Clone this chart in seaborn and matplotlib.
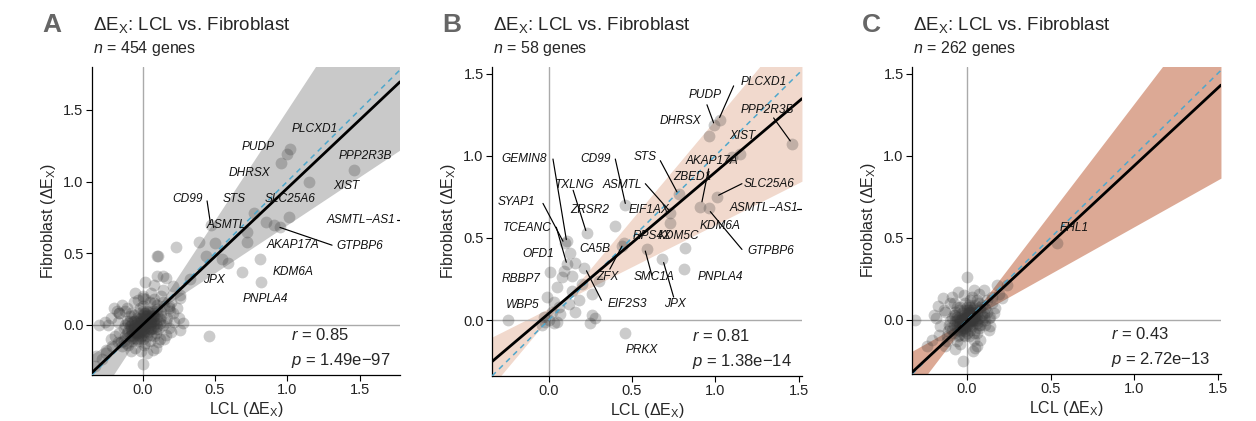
import numpy as np
import matplotlib
matplotlib.use("Agg")
import matplotlib.pyplot as plt
import seaborn as sns

# ------------------------------
# data
# ------------------------------
panels = ["A", "B", "C"]
n_genes = [454, 58, 262]
r_vals = ["0.85", "0.81", "0.43"]
p_vals = ["1.49e\u221297", "1.38e\u221214", "2.72e\u221213"]

# fitted line and slope interval (band pivots on the fit)
fit_slope = [0.953, 0.86, 0.946]
fit_icpt = [0.0, 0.04, -0.008]
band_lo = [0.67, 0.51, 0.57]
band_hi = [1.54, 1.21, 1.33]
pivot_x = [0.08, 0.086, 0.013]

xlims = [(-0.35, 1.78), (-0.34, 1.52), (-0.33, 1.52)]
ylims = [(-0.35, 1.80), (-0.34, 1.54), (-0.33, 1.54)]
band_colors = ["#c9c9c9", "#f1d9cd", "#dca995"]

# panel A points
a_pts = [
    (1.016, 1.23), (1.00, 1.19), (0.96, 1.13), (1.46, 1.08), (1.15, 1.00),
    (1.01, 0.75), (0.85, 0.72), (0.91, 0.70), (0.95, 0.68), (0.77, 0.78),
    (0.72, 0.65), (0.72, 0.58), (0.50, 0.57), (0.47, 0.70), (0.39, 0.58),
    (0.23, 0.54), (0.11, 0.48), (0.81, 0.46), (0.10, 0.48), (0.44, 0.48),
    (0.55, 0.46), (0.59, 0.43), (0.69, 0.37), (0.82, 0.30), (0.14, 0.34),
    (0.10, 0.34), (0.165, 0.33), (0.02, 0.30), (0.08, 0.28), (0.21, 0.27),
    (0.26, 0.21), (0.14, 0.245), (0.0, 0.19), (-0.05, 0.22), (0.08, 0.15),
    (0.18, 0.13), (0.28, 0.01), (0.26, -0.035), (0.46, -0.08), (0.07, -0.175),
    (-0.30, 0.0), (-0.24, 0.0), (-0.16, 0.08), (-0.17, -0.12), (-0.115, -0.13),
    (0.0, -0.27), (-0.25, -0.175), (-0.33, -0.29), (-0.32, -0.22), (0.33, 0.32),
    (0.00, 0.00), (0.02, 0.01), (-0.02, -0.01), (0.01, -0.03), (-0.01, 0.03),
    (0.04, 0.03), (-0.04, -0.03), (0.03, -0.01), (-0.03, 0.01), (0.05, 0.00),
    (-0.05, 0.00), (0.00, 0.05), (0.00, -0.05), (0.06, 0.04), (-0.06, -0.05),
    (0.02, 0.06), (-0.02, -0.06), (0.07, -0.02), (-0.07, 0.02), (0.04, -0.05),
    (-0.04, 0.05), (0.08, 0.06), (-0.08, -0.07), (0.01, 0.08), (-0.01, -0.08),
    (0.09, 0.01), (-0.09, -0.01), (0.05, 0.08), (-0.05, -0.09), (0.10, 0.07),
    (-0.10, -0.04), (0.03, 0.10), (-0.03, -0.11), (0.11, -0.03), (-0.11, 0.03),
    (0.07, 0.10), (-0.07, -0.11), (0.12, 0.04), (-0.12, -0.08), (0.00, 0.10),
    (0.00, -0.10), (0.06, -0.07), (-0.06, 0.07), (0.13, 0.09), (-0.13, -0.02),
    (0.09, -0.06), (-0.09, 0.06), (0.02, -0.13), (-0.02, 0.12), (0.14, 0.00),
    (0.01, 0.02), (-0.01, 0.00), (0.03, 0.04), (-0.03, -0.04), (0.02, -0.02),
    (-0.02, 0.02), (0.05, 0.02), (-0.05, -0.02), (0.04, 0.06), (-0.04, -0.06),
    (0.06, 0.01), (-0.06, -0.01), (0.01, 0.04), (-0.01, -0.04), (0.08, 0.03),
    (-0.08, -0.03), (0.03, 0.07), (-0.03, -0.07), (0.07, 0.06), (-0.07, -0.06),
    (0.01, 0.00), (-0.01, 0.01), (0.00, -0.01), (0.02, 0.03), (-0.02, -0.02),
    (0.03, 0.01), (-0.03, -0.01), (0.01, -0.05), (-0.01, 0.05), (0.04, -0.02),
    (-0.04, 0.02), (0.05, 0.05), (-0.05, -0.05), (0.06, -0.03), (-0.06, 0.03),
    (0.02, 0.08), (-0.02, -0.09), (0.07, 0.03), (-0.07, -0.04), (0.03, -0.08),
    (-0.03, 0.08), (0.09, 0.05), (-0.09, -0.08), (0.04, 0.09), (-0.04, -0.10),
    (0.10, -0.01), (-0.10, 0.01), (0.06, 0.07), (-0.06, -0.08), (0.11, 0.10),
    (-0.11, -0.06), (0.08, -0.08), (-0.08, 0.08), (0.12, 0.01), (-0.12, 0.00),
    (0.00, 0.13), (0.01, -0.14), (0.13, 0.06), (-0.13, -0.11), (0.05, -0.11),
    (0.00, 0.02), (0.02, -0.04), (-0.02, 0.04), (0.04, 0.04), (-0.04, -0.04),
    (0.06, 0.02), (-0.06, -0.02), (0.03, 0.06), (-0.03, -0.06), (0.08, 0.00),
    (-0.08, 0.00), (0.00, 0.07), (0.00, -0.07), (0.05, -0.03), (-0.05, 0.03),
    (0.07, 0.08), (-0.07, -0.09), (0.09, -0.03), (-0.09, 0.03), (0.10, 0.11),
    (0.15, 0.13), (-0.15, -0.12), (0.17, 0.05), (-0.17, 0.02), (0.05, 0.16),
    (-0.05, -0.16), (0.19, 0.10), (-0.19, -0.08), (0.12, -0.10), (-0.12, 0.10),
    (0.20, 0.16), (-0.21, -0.15), (0.16, -0.07), (-0.16, 0.08), (0.08, 0.18),
    (-0.08, -0.18), (0.22, 0.02), (-0.22, 0.05), (0.00, 0.20), (0.03, -0.20),
    (0.24, 0.12), (-0.25, -0.20), (0.10, 0.14), (-0.10, -0.14), (0.18, -0.02),
    (-0.14, 0.14), (0.26, 0.19), (-0.28, -0.24), (0.13, 0.20), (-0.03, 0.17),
    (0.14, 0.16), (-0.14, -0.15), (0.16, 0.02), (-0.16, -0.06), (0.11, -0.12),
    (-0.11, 0.12), (0.18, 0.12), (-0.18, 0.10), (0.02, 0.18), (-0.01, -0.18),
    (0.21, 0.08), (-0.20, 0.12), (0.15, -0.10), (-0.22, -0.10), (0.06, 0.22),
    (0.09, -0.16), (-0.06, 0.16), (0.25, 0.05), (-0.26, 0.02), (0.20, -0.05),
]

# panel B points
b_pts = [
    (1.03, 1.22), (0.99, 1.19), (0.96, 1.12), (1.46, 1.07), (1.15, 1.01),
    (0.91, 0.69), (0.96, 0.68), (1.01, 0.75), (0.78, 0.77), (0.73, 0.65),
    (0.73, 0.59), (0.46, 0.70), (0.59, 0.43), (0.45, 0.47), (0.82, 0.44),
    (0.68, 0.37), (0.81, 0.31), (0.40, 0.57), (0.23, 0.53), (0.11, 0.48),
    (0.10, 0.47), (0.11, 0.34), (0.16, 0.35), (0.21, 0.32), (0.09, 0.30),
    (0.14, 0.27), (0.08, 0.26), (0.01, 0.29), (0.05, 0.20), (0.14, 0.18),
    (0.26, 0.16), (0.18, 0.12), (0.03, 0.11), (0.12, 0.10), (-0.245, 0.0),
    (-0.04, -0.03), (0.0, 0.0), (0.03, -0.02), (0.05, -0.01), (-0.02, -0.01),
    (0.26, 0.03), (0.28, 0.01), (0.25, -0.02), (0.46, -0.08), (0.44, 0.45),
    (0.02, 0.05), (0.07, 0.04), (-0.03, 0.02), (0.06, 0.08), (0.20, 0.22),
    (0.30, 0.24), (0.16, 0.05), (-0.01, 0.14), (0.13, 0.41), (1.10, 0.99),
]

# panel C points
c_pts = [
    (0.54, 0.47), (0.18, 0.21), (0.24, 0.21), (0.21, 0.13), (0.17, 0.07),
    (0.14, 0.02), (0.10, 0.02), (0.0, 0.26), (-0.055, 0.17), (-0.145, 0.13),
    (-0.175, 0.085), (-0.31, 0.0), (-0.185, 0.01), (0.04, 0.18), (0.07, 0.16),
    (0.02, 0.12), (-0.21, -0.12), (-0.135, -0.16), (-0.075, -0.18), (-0.025, -0.25),
    (0.035, -0.19), (0.06, -0.16), (-0.055, -0.10), (-0.115, -0.07), (0.13, 0.01),
    (0.11, -0.03), (0.09, 0.09), (-0.09, 0.14), (0.15, 0.10), (-0.16, -0.04),
    (0.00, 0.00), (0.02, 0.01), (-0.02, -0.01), (0.01, -0.02), (-0.01, 0.02),
    (0.03, 0.03), (-0.03, -0.03), (0.03, -0.01), (-0.03, 0.01), (0.04, 0.00),
    (-0.04, 0.00), (0.00, 0.04), (0.00, -0.04), (0.05, 0.03), (-0.05, -0.04),
    (0.02, 0.05), (-0.02, -0.05), (0.06, -0.02), (-0.06, 0.02), (0.03, -0.04),
    (-0.03, 0.04), (0.06, 0.05), (-0.06, -0.06), (0.01, 0.06), (-0.01, -0.07),
    (0.07, 0.01), (-0.07, -0.01), (0.04, 0.07), (-0.04, -0.07), (0.08, 0.06),
    (-0.08, -0.03), (0.02, 0.08), (-0.02, -0.09), (0.08, -0.03), (-0.08, 0.03),
    (0.05, 0.09), (-0.05, -0.09), (0.09, 0.03), (-0.09, -0.06), (0.00, 0.08),
    (0.00, -0.08), (0.05, -0.06), (-0.05, 0.06), (0.10, 0.08), (-0.10, -0.01),
    (0.07, -0.05), (-0.07, 0.05), (0.01, -0.10), (-0.01, 0.10), (0.11, 0.00),
    (0.01, 0.01), (-0.01, -0.01), (0.02, 0.03), (-0.02, -0.03), (0.02, -0.01),
    (-0.02, 0.01), (0.04, 0.02), (-0.04, -0.02), (0.03, 0.05), (-0.03, -0.05),
    (0.12, 0.05), (-0.12, -0.10), (0.06, 0.12), (-0.06, -0.13), (0.13, -0.06),
    (-0.13, 0.05), (0.04, -0.12), (-0.08, 0.10), (0.15, 0.14), (-0.02, 0.15),
    (0.01, 0.00), (-0.01, 0.01), (0.00, -0.01), (0.02, 0.02), (-0.02, -0.02),
    (0.03, 0.00), (-0.03, 0.00), (0.00, 0.03), (0.00, -0.03), (0.04, 0.04),
    (-0.04, -0.04), (0.05, -0.01), (-0.05, 0.01), (0.01, 0.05), (-0.01, -0.05),
    (0.06, 0.03), (-0.06, -0.03), (0.03, 0.06), (-0.03, -0.06), (0.07, -0.03),
    (-0.07, 0.03), (0.02, -0.06), (-0.02, 0.06), (0.08, 0.08), (-0.08, -0.08),
    (0.05, 0.06), (-0.05, -0.06), (0.09, -0.01), (-0.09, 0.01), (0.04, -0.08),
    (-0.04, 0.08), (0.10, 0.04), (-0.10, -0.05), (0.01, 0.09), (-0.01, -0.10),
    (0.06, -0.08), (-0.06, 0.08), (0.11, 0.07), (-0.11, -0.03), (0.07, 0.10),
    (0.00, 0.01), (0.01, -0.01), (-0.01, 0.00), (0.02, 0.00), (-0.02, 0.00),
    (0.00, 0.02), (0.00, -0.02), (0.03, 0.02), (-0.03, -0.02), (0.02, -0.03),
    (-0.02, 0.03), (0.04, 0.01), (-0.04, -0.01), (0.01, 0.04), (-0.01, -0.04),
    (0.05, 0.02), (-0.05, -0.02), (0.06, 0.00), (-0.06, 0.00), (0.00, 0.06),
    (0.12, 0.12), (-0.12, -0.13), (0.14, -0.04), (-0.14, 0.06), (0.08, -0.12),
    (-0.10, 0.10), (0.16, 0.04), (-0.17, -0.09), (0.03, 0.14), (-0.04, -0.15),
    (0.19, 0.16), (-0.20, 0.03), (0.10, 0.18), (0.05, -0.17), (-0.24, -0.16),
]
all_pts = [a_pts, b_pts, c_pts]

# gene labels: name, label x, label y, leader (x0, y0, x1, y1) or None
a_labels = [
    ("PLCXD1", 1.19, 1.37, None), ("PUDP", 0.80, 1.24, None),
    ("DHRSX", 0.74, 1.06, None), ("PPP2R3B", 1.54, 1.18, None),
    ("XIST", 1.41, 0.97, None), ("CD99", 0.31, 0.88, (0.446, 0.865, 0.469, 0.71)),
    ("STS", 0.63, 0.88, None), ("SLC25A6", 1.02, 0.88, None),
    ("ASMTL", 0.58, 0.70, None), ("ASMTL\u2212AS1", 1.51, 0.73, (1.756, 0.73, 1.78, 0.73)),
    ("AKAP17A", 1.04, 0.56, None), ("GTPBP6", 1.50, 0.55, (1.31, 0.556, 0.95, 0.68)),
    ("KDM6A", 1.04, 0.37, None), ("JPX", 0.49, 0.31, None),
    ("PNPLA4", 0.85, 0.18, None),
]
b_labels = [
    ("PLCXD1", 1.29, 1.45, (1.11, 1.425, 1.026, 1.233)),
    ("PUDP", 0.94, 1.37, (0.95, 1.31, 0.99, 1.20)),
    ("DHRSX", 0.79, 1.21, None),
    ("PPP2R3B", 1.31, 1.28, (1.35, 1.23, 1.45, 1.09)),
    ("XIST", 1.16, 1.12, None),
    ("GEMIN8", -0.145, 0.98, (0.026, 0.98, 0.106, 0.49)),
    ("CD99", 0.28, 0.98, (0.40, 0.98, 0.46, 0.71)),
    ("STS", 0.58, 0.99, (0.67, 0.97, 0.77, 0.78)),
    ("AKAP17A", 0.98, 0.97, (0.96, 0.92, 0.92, 0.72)),
    ("TXLNG", 0.157, 0.82, (0.147, 0.79, 0.223, 0.545)),
    ("ASMTL", 0.44, 0.82, (0.58, 0.83, 0.72, 0.67)),
    ("ZBED1", 0.86, 0.87, None),
    ("SLC25A6", 1.32, 0.83, (1.16, 0.83, 1.02, 0.76)),
    ("SYAP1", -0.195, 0.72, (-0.034, 0.71, 0.086, 0.48)),
    ("ZRSR2", 0.247, 0.67, None),
    ("EIF1AX", 0.60, 0.67, None),
    ("ASMTL\u2212AS1", 1.29, 0.68, (1.49, 0.676, 1.52, 0.676)),
    ("TCEANC", -0.125, 0.56, (0.046, 0.565, 0.106, 0.352)),
    ("KDM6A", 1.03, 0.575, None),
    ("RPS4X", 0.62, 0.51, None),
    ("KDM5C", 0.78, 0.51, None),
    ("CA5B", 0.28, 0.43, None),
    ("ZFX", 0.35, 0.26, (0.367, 0.31, 0.44, 0.45)),
    ("OFD1", -0.065, 0.40, None),
    ("GTPBP6", 1.33, 0.42, (1.16, 0.43, 0.97, 0.66)),
    ("SMC1A", 0.63, 0.26, (0.62, 0.27, 0.58, 0.42)),
    ("PNPLA4", 1.03, 0.26, None),
    ("RBBP7", -0.165, 0.25, None),
    ("EIF2S3", 0.47, 0.095, (0.317, 0.12, 0.227, 0.30)),
    ("JPX", 0.76, 0.095, (0.75, 0.14, 0.69, 0.35)),
    ("WBP5", -0.155, 0.09, None),
    ("PRKX", 0.56, -0.18, None),
]
c_labels = [("FHL1", 0.64, 0.56, None)]
all_labels = [a_labels, b_labels, c_labels]

# ------------------------------
# style
# ------------------------------
sns.set_theme(style="ticks")
plt.rcParams["font.family"] = ["Liberation Sans", "DejaVu Sans"]
plt.rcParams["mathtext.fontset"] = "custom"
plt.rcParams["mathtext.rm"] = "Liberation Sans"
plt.rcParams["mathtext.it"] = "Liberation Sans:italic"

fig = plt.figure(figsize=(12.56, 4.21), dpi=100)
boxes = [
    [0.0732, 0.1093, 0.2453, 0.7316],
    [0.3917, 0.1069, 0.2468, 0.7340],
    [0.7261, 0.1116, 0.2460, 0.7292],
]

for i in range(3):
    ax = fig.add_axes(boxes[i])
    pts = np.array(all_pts[i])
    x0, x1 = xlims[i]

    # slope band around the fit
    xs = np.linspace(x0, x1, 200)
    py = fit_icpt[i] + fit_slope[i] * pivot_x[i]
    y_a = py + band_lo[i] * (xs - pivot_x[i])
    y_b = py + band_hi[i] * (xs - pivot_x[i])
    ax.fill_between(xs, np.minimum(y_a, y_b), np.maximum(y_a, y_b),
                    color=band_colors[i], lw=0, zorder=1)

    ax.axvline(0, color="#aaaaaa", lw=1, zorder=1.5)
    ax.axhline(0, color="#aaaaaa", lw=1, zorder=1.5)

    sns.scatterplot(x=pts[:, 0], y=pts[:, 1], ax=ax, color="#383838",
                    alpha=0.26, s=72, linewidth=0, zorder=2)

    ax.plot(xs, xs, color="#4ea7cc", lw=1.1, ls=(0, (3.5, 3)), zorder=3)
    ax.plot(xs, fit_icpt[i] + fit_slope[i] * xs, color="black", lw=2, zorder=4)

    for name, tx, ty, lead in all_labels[i]:
        ax.text(tx, ty, name, style="italic", fontsize=8.6, ha="center",
                va="center", color="#111111", zorder=6)
        if lead is not None:
            ax.plot([lead[0], lead[2]], [lead[1], lead[3]], color="black",
                    lw=0.85, zorder=5)

    ax.text(0.645, 0.13, f"$r$ = {r_vals[i]}", transform=ax.transAxes,
            fontsize=12, ha="left", va="center")
    ax.text(0.645, 0.048, f"$p$ = {p_vals[i]}", transform=ax.transAxes,
            fontsize=12, ha="left", va="center")

    ax.set_xlim(xlims[i])
    ax.set_ylim(ylims[i])
    ax.set_xticks([0.0, 0.5, 1.0, 1.5])
    ax.set_yticks([0.0, 0.5, 1.0, 1.5])
    ax.tick_params(length=4, width=0.8, labelsize=10.5, colors="black",
                   labelcolor="#222222", pad=2)
    ax.set_xlabel("LCL (\u0394E$_\\mathrm{X}$)", fontsize=11.5, labelpad=2)
    ax.set_ylabel("Fibroblast (\u0394E$_\\mathrm{X}$)", fontsize=11.5, labelpad=4)
    for sp in ["top", "right"]:
        ax.spines[sp].set_visible(False)
    for sp in ["left", "bottom"]:
        ax.spines[sp].set_linewidth(0.9)
        ax.spines[sp].set_color("black")

    left_px = boxes[i][0] * 1256
    fig.text((left_px - 50) / 1256, 1 - 32 / 421, panels[i], fontsize=19,
             fontweight="bold", color="#666666", va="baseline")
    fig.text((left_px + 1) / 1256, 1 - 30 / 421,
             "\u0394E$_\\mathrm{X}$: LCL vs. Fibroblast", fontsize=13.5,
             va="baseline")
    fig.text((left_px + 1) / 1256, 1 - 53 / 421, f"$n$ = {n_genes[i]} genes",
             fontsize=11.5, va="baseline")

fig.savefig("out.png", dpi=100, facecolor="white")
